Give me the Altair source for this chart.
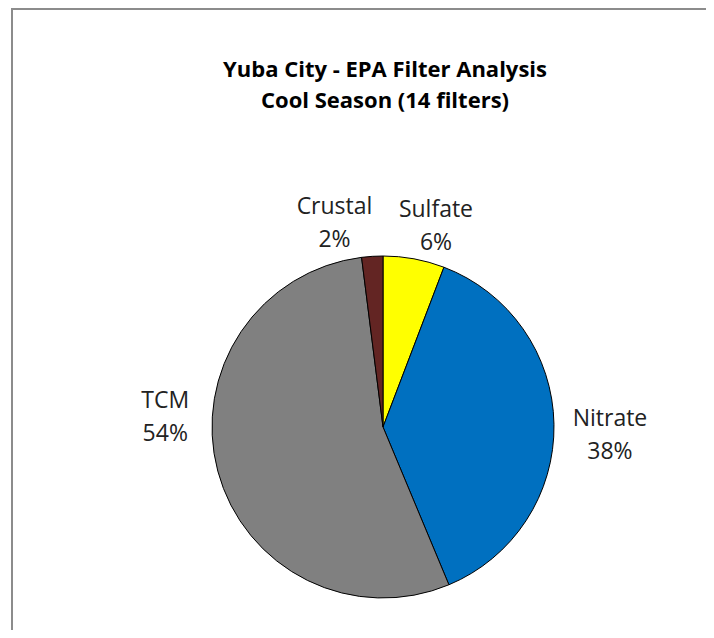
import altair as alt
import pandas as pd

categories = ["Sulfate", "Nitrate", "TCM", "Crustal"]
values = [5.8, 37.9, 54.3, 2.0]
colors = ["#FFFF00", "#0070C0", "#808080", "#632523"]
order = [1, 2, 3, 4]
title_lines = ["Yuba City - EPA Filter Analysis", "Cool Season (14 filters)"]

df = pd.DataFrame({"cat": categories, "value": values, "ord": order})

FONT = "Open Sans"
CX, CY, R = 375, 309, 171
LR = 215

base = alt.Chart(df).transform_calculate(
    label="datum.cat + '\\n' + format(datum.value / 100, '.0%')"
)

pie = base.mark_arc(outerRadius=R, stroke="black", strokeWidth=1).encode(
    theta=alt.Theta("value:Q", stack=True),
    order=alt.Order("ord:Q"),
    color=alt.Color("cat:N", scale=alt.Scale(domain=categories, range=colors), legend=None),
    x=alt.value(CX),
    y=alt.value(CY),
)

offsets = {"Sulfate": (14, -6), "Nitrate": (12, -5), "TCM": (-10, -81), "Crustal": (-35, -5)}

label_layers = []
for c in categories:
    ddx, ddy = offsets[c]
    label_layers.append(
        base.mark_text(
            radius=LR, dx=ddx, dy=ddy, font=FONT, fontSize=23, lineBreak="\n",
            lineHeight=33, align="center", baseline="middle", color="#222222",
        ).encode(
            theta=alt.Theta("value:Q", stack=True),
            order=alt.Order("ord:Q"),
            text=alt.condition(f"datum.cat == '{c}'", "label:N", alt.value("")),
            x=alt.value(CX),
            y=alt.value(CY),
        )
    )

title = alt.Chart(pd.DataFrame({"t": ["\n".join(title_lines)]})).mark_text(
    font=FONT, fontSize=22, fontWeight="bold", color="black", lineBreak="\n",
    lineHeight=31, align="center", baseline="middle",
).encode(text="t:N", x=alt.value(377), y=alt.value(-48))

frame_top = alt.Chart(df).mark_rule(color="#8c8c8c", strokeWidth=2).encode(
    x=alt.value(4), x2=alt.value(698), y=alt.value(-109)
)
frame_left = alt.Chart(df).mark_rule(color="#8c8c8c", strokeWidth=2).encode(
    x=alt.value(4), y=alt.value(-110), y2=alt.value(512)
)

chart = alt.layer(frame_top, frame_left, title, pie, *label_layers).properties(
    width=698,
    height=512,
    padding={"top": 110, "left": 0, "right": 0, "bottom": 0},
    autosize=alt.AutoSizeParams(type="none"),
).configure_view(stroke=None)

chart.save("out.html", embed_options={"renderer": "svg", "actions": False})
